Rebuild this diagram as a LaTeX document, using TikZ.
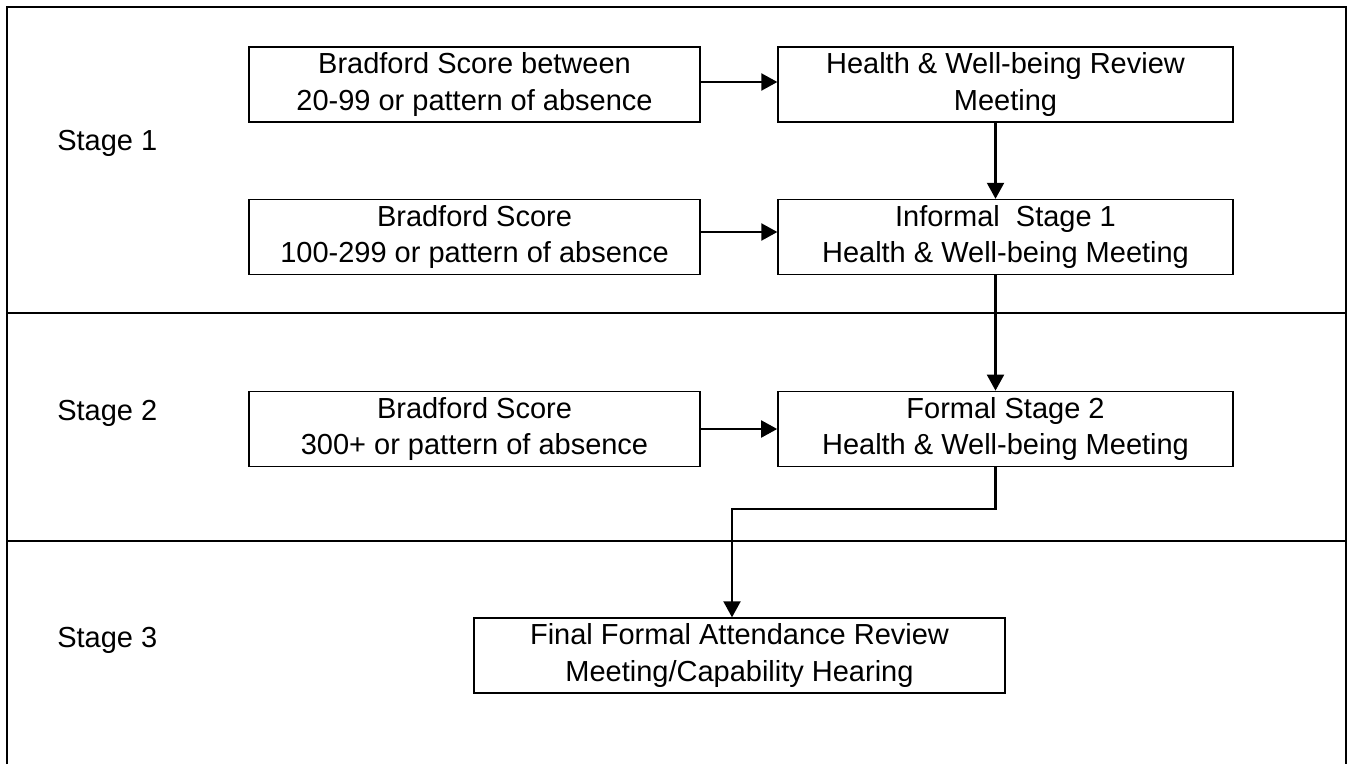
\documentclass[tikz,border=0pt]{standalone}
\usepackage{fontspec}
\setmainfont{Liberation Sans}
\usetikzlibrary{arrows.meta, positioning, calc}
\definecolor{lineblack}{RGB}{0, 0, 0}

\begin{document}
\begin{tikzpicture}[x=0.02cm, y=-0.02cm,
  stepbox/.style={draw=lineblack, line width=0.8pt, align=center, inner sep=0pt,
    minimum height=1.5cm, font=\fontsize{16.5}{21}\selectfont},
  stagelabel/.style={anchor=west, inner sep=0pt, font=\fontsize{16.5}{21}\selectfont},
  arr/.style={-{Triangle[width=0.34cm, length=0.32cm]}, line width=1.2pt, lineblack}]
  \useasboundingbox (0,0) rectangle (1351,764);

  % 外框与阶段分隔线
  \draw[line width=1pt] (7,764) -- (7,7) -- (1346,7) -- (1346,764);
  \draw[line width=0.8pt] (7,313) -- (1346,313);
  \draw[line width=0.8pt] (7,541) -- (1346,541);

  % 阶段标签
  \node[stagelabel] (st1) at (57,143) {Stage 1};
  \node[stagelabel] (st2) at (57,413) {Stage 2};
  \node[stagelabel] (st3) at (57,640) {Stage 3};

  % 触发条件（左列）
  \node[stepbox, minimum width=9.02cm] (b1) at (474.5,84.5) {Bradford Score between\\20-99 or pattern of absence};
  \node[stepbox, minimum width=9.02cm] (b2) at (474.5,237) {Bradford Score\\100-299 or pattern of absence};
  \node[stepbox, minimum width=9.02cm, line width=1pt] (b3) at (474.5,429) {Bradford Score\\300+ or pattern of absence};

  % 会议（右列）
  \node[stepbox, minimum width=9.1cm] (h1) at (1005.5,84.5) {Health \& Well-being Review\\Meeting};
  \node[stepbox, minimum width=9.1cm] (h2) at (1005.5,237) {Informal\ \ Stage 1\\Health \& Well-being Meeting};
  \node[stepbox, minimum width=9.1cm, line width=1pt] (h3) at (1005.5,429) {Formal Stage 2\\Health \& Well-being Meeting};

  % 最终听证
  \node[stepbox, minimum width=10.62cm] (fin) at (739.5,655.5) {Final Formal Attendance Review\\Meeting/Capability Hearing};

  % 连接箭头
  \draw[arr] ([yshift=0.05cm]b1.east) -- ([yshift=0.05cm]h1.west);
  \draw[arr] ([yshift=0.1cm]b2.east) -- ([yshift=0.1cm]h2.west);
  \draw[arr] (b3.east) -- (h3.west);
  \draw[arr] ([xshift=-0.2cm]h1.south) -- ([xshift=-0.2cm]h2.north);
  \draw[arr] ([xshift=-0.2cm]h2.south) -- ([xshift=-0.2cm]h3.north);
  \draw[arr] ([xshift=-0.2cm]h3.south) -- ++(0,42) -| ([xshift=-0.15cm]fin.north);
\end{tikzpicture}
\end{document}
